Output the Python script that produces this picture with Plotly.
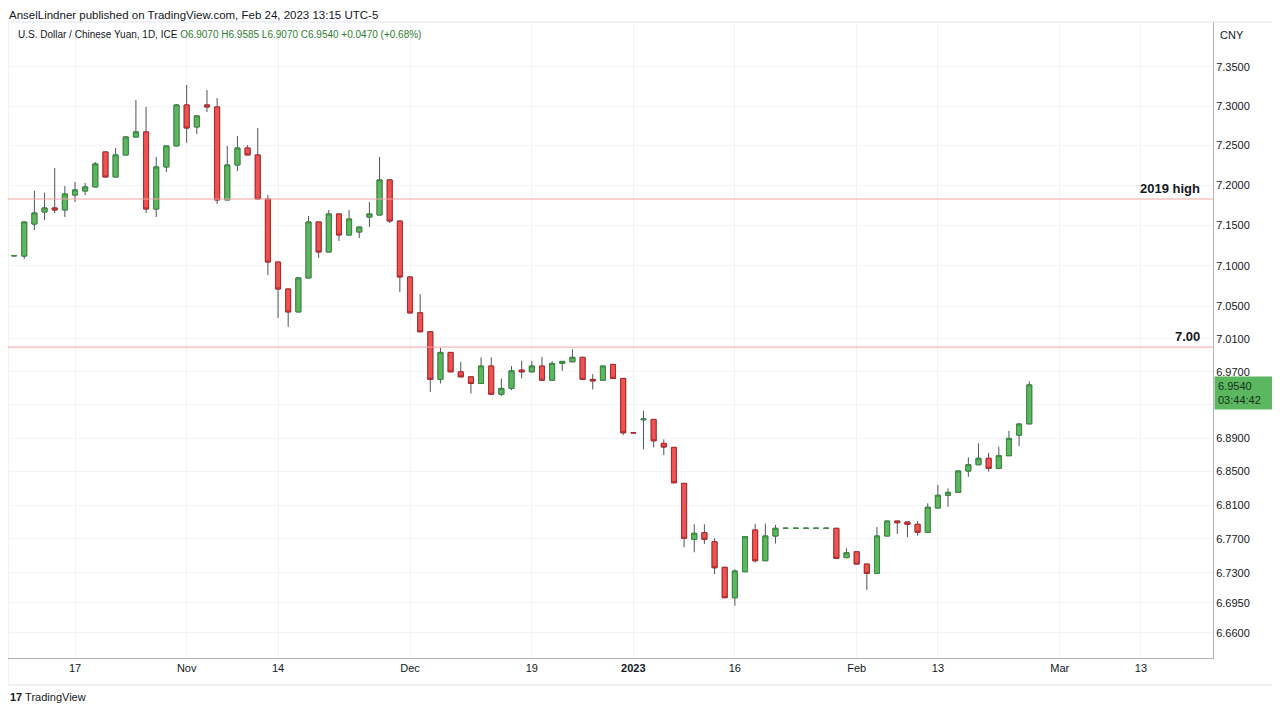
import math
import pandas as pd
import plotly.graph_objects as go

# daily USD/CNY bars, Oct 7 2022 .. Feb 24 2023 (weekdays only)
dates = pd.bdate_range("2022-10-07", "2023-02-24")

opens = [
    7.1120, 7.1119, 7.1517, 7.1667, 7.1717, 7.1692, 7.1879, 7.1930, 7.1980, 7.2420,
    7.2105, 7.2382, 7.2609, 7.2673, 7.1704, 7.2231, 7.2496, 7.3015, 7.2736, 7.3015,
    7.2990, 7.1817, 7.2256, 7.2470, 7.2382, 7.1829, 7.1045, 7.0712, 7.0430, 7.0848,
    7.1542, 7.1169, 7.1642, 7.1380, 7.1417, 7.1604, 7.1629, 7.2068, 7.1554, 7.0860,
    7.0419, 7.0187, 6.9607, 6.9935, 6.9699, 6.9638, 6.9558, 6.9769, 6.9428, 6.9498,
    6.9720, 6.9699, 6.9769, 6.9598, 6.9801, 6.9821, 6.9875, 6.9607, 6.9598, 6.9789,
    6.9619, 6.8963, 6.9120, 6.9124, 6.8836, 6.8788, 6.8358, 6.7695, 6.7773, 6.7667,
    6.7366, 6.7010, 6.7314, 6.7805, 6.7443, 6.7734, 6.7825, 6.7825, 6.7825, 6.7825,
    6.7825, 6.7825, 6.7479, 6.7549, 6.7404, 6.7295, 6.7734, 6.7911, 6.7899, 6.7872,
    6.7778, 6.8065, 6.8216, 6.8251, 6.8505, 6.8580, 6.8657, 6.8537, 6.8688, 6.8935,
    6.9070,
]
highs = [
    7.1128, 7.1545, 7.1930, 7.1905, 7.2218, 7.1992, 7.2042, 7.2030, 7.2294, 7.2420,
    7.2470, 7.2620, 7.3079, 7.2990, 7.2357, 7.2496, 7.3028, 7.3270, 7.2880, 7.3206,
    7.3104, 7.2496, 7.2622, 7.2508, 7.2723, 7.1879, 7.1045, 7.0712, 7.0860, 7.1617,
    7.1542, 7.1692, 7.1642, 7.1692, 7.1479, 7.1792, 7.2357, 7.2080, 7.1554, 7.0860,
    7.0649, 7.0187, 6.9991, 6.9935, 6.9821, 6.9638, 6.9875, 6.9875, 6.9619, 6.9769,
    6.9833, 6.9833, 6.9882, 6.9830, 6.9830, 6.9972, 6.9882, 6.9671, 6.9769, 6.9789,
    6.9619, 6.8963, 6.9228, 6.9124, 6.8884, 6.8788, 6.8358, 6.7872, 6.7872, 6.7707,
    6.7366, 6.7342, 6.7726, 6.7875, 6.7881, 6.7864, 6.7825, 6.7825, 6.7825, 6.7825,
    6.7825, 6.7825, 6.7589, 6.7549, 6.7404, 6.7840, 6.7911, 6.7911, 6.7899, 6.7911,
    6.8121, 6.8338, 6.8299, 6.8517, 6.8669, 6.8836, 6.8723, 6.8796, 6.8987, 6.9077,
    6.9585,
]
lows = [
    7.1118, 7.1082, 7.1442, 7.1567, 7.1654, 7.1604, 7.1792, 7.1879, 7.1980, 7.2105,
    7.2105, 7.2380, 7.2609, 7.1654, 7.1604, 7.2168, 7.2496, 7.2534, 7.2647, 7.2926,
    7.1767, 7.1817, 7.2181, 7.2382, 7.1829, 7.0885, 7.0357, 7.0247, 7.0430, 7.0848,
    7.1095, 7.1169, 7.1305, 7.1380, 7.1342, 7.1479, 7.1629, 7.1529, 7.0675, 7.0418,
    7.0187, 6.9456, 6.9558, 6.9699, 6.9638, 6.9437, 6.9558, 6.9428, 6.9404, 6.9477,
    6.9619, 6.9699, 6.9598, 6.9598, 6.9711, 6.9821, 6.9607, 6.9485, 6.9598, 6.9619,
    6.8935, 6.8963, 6.8764, 6.8788, 6.8696, 6.8365, 6.7601, 6.7542, 6.7640, 6.7287,
    6.7010, 6.6917, 6.7314, 6.7420, 6.7443, 6.7645, 6.7825, 6.7825, 6.7825, 6.7825,
    6.7825, 6.7471, 6.7479, 6.7404, 6.7100, 6.7295, 6.7734, 6.7758, 6.7719, 6.7738,
    6.7778, 6.8065, 6.8081, 6.8251, 6.8437, 6.8580, 6.8497, 6.8537, 6.8688, 6.8804,
    6.9070,
]
closes = [
    7.1125, 7.1542, 7.1654, 7.1717, 7.1692, 7.1892, 7.1942, 7.1980, 7.2269, 7.2105,
    7.2382, 7.2609, 7.2673, 7.1704, 7.2231, 7.2496, 7.3015, 7.2723, 7.2876, 7.2990,
    7.1817, 7.2256, 7.2470, 7.2382, 7.1829, 7.1045, 7.0712, 7.0430, 7.0848, 7.1542,
    7.1169, 7.1642, 7.1380, 7.1579, 7.1479, 7.1642, 7.2068, 7.1554, 7.0860, 7.0418,
    7.0187, 6.9607, 6.9935, 6.9699, 6.9638, 6.9558, 6.9769, 6.9428, 6.9498, 6.9711,
    6.9699, 6.9769, 6.9598, 6.9801, 6.9826, 6.9875, 6.9607, 6.9589, 6.9769, 6.9619,
    6.8963, 6.8963, 6.9128, 6.8867, 6.8792, 6.8365, 6.7707, 6.7766, 6.7695, 6.7361,
    6.7010, 6.7322, 6.7726, 6.7443, 6.7734, 6.7825, 6.7825, 6.7825, 6.7825, 6.7825,
    6.7825, 6.7471, 6.7537, 6.7404, 6.7295, 6.7734, 6.7911, 6.7891, 6.7872, 6.7778,
    6.8074, 6.8216, 6.8251, 6.8505, 6.8580, 6.8657, 6.8537, 6.8688, 6.8896, 6.9068,
    6.9540,
]

# axis ticks
x_tick_dates = ["2022-10-17", "2022-11-01", "2022-11-14", "2022-12-01", "2022-12-19",
                "2023-01-02", "2023-01-16", "2023-02-01", "2023-02-13", "2023-03-01", "2023-03-13"]
x_tick_text = ["17", "Nov", "14", "Dec", "19", "<b>2023</b>", "16", "Feb", "13", "Mar", "13"]
y_ticks = [6.6600, 6.6950, 6.7300, 6.7700, 6.8100, 6.8500, 6.8900, 6.9300, 6.9700,
           7.0100, 7.0500, 7.1000, 7.1500, 7.2000, 7.2500, 7.3000, 7.3500]

high_2019 = 7.1829
level_700 = 7.00
last_price = 6.9540

GREEN = "#5cb860"
GREEN_LINE = "#3b8a3e"
RED = "#ef5350"
RED_LINE = "#b2282c"
WICK = "#50535e"
TXT = "#131722"
FONT = "Liberation Sans"

fig = go.Figure()

# wicks (dark) underneath
fig.add_trace(go.Candlestick(
    x=dates, open=opens, high=highs, low=lows, close=closes,
    increasing=dict(fillcolor=GREEN, line=dict(color=WICK, width=1)),
    decreasing=dict(fillcolor=RED, line=dict(color=WICK, width=1)),
    whiskerwidth=0, hoverinfo="skip", showlegend=False,
))
# bodies with coloured borders on top
body_hi = [max(o, c) for o, c in zip(opens, closes)]
body_lo = [min(o, c) for o, c in zip(opens, closes)]
fig.add_trace(go.Candlestick(
    x=dates, open=opens, high=body_hi, low=body_lo, close=closes,
    increasing=dict(fillcolor=GREEN, line=dict(color=GREEN_LINE, width=1)),
    decreasing=dict(fillcolor=RED, line=dict(color=RED_LINE, width=1)),
    whiskerwidth=0, showlegend=False,
))

for lvl in (high_2019, level_700):
    fig.add_shape(type="line", xref="paper", x0=0, x1=1, yref="y", y0=lvl, y1=lvl,
                  line=dict(color="#f4a3a3", width=1))

fig.add_annotation(text="<b>2019 high</b>", xref="paper", x=0.9909, xanchor="right",
                   yref="y", y=math.log10(high_2019), yanchor="bottom", yshift=1,
                   showarrow=False, font=dict(family=FONT, size=13, color=TXT))
fig.add_annotation(text="<b>7.00</b>", xref="paper", x=0.9909, xanchor="right",
                   yref="y", y=math.log10(level_700), yanchor="bottom", yshift=1,
                   showarrow=False, font=dict(family=FONT, size=13, color=TXT))

# last price tag on the price scale
fig.add_annotation(text="%.4f<br>03:44:42" % last_price, xref="paper", x=1.0008, xanchor="left",
                   yref="y", y=math.log10(last_price), yanchor="middle", yshift=-8,
                   showarrow=False, align="left", bgcolor=GREEN, width=54, borderpad=3,
                   font=dict(family=FONT, size=11, color="#14301a"))

# header texts
fig.add_annotation(text="AnselLindner published on TradingView.com, Feb 24, 2023 13:15 UTC-5",
                   xref="paper", x=0, xanchor="left", yref="paper", y=1.022, yanchor="top",
                   borderpad=0, showarrow=False, font=dict(family=FONT, size=11.5, color=TXT))
fig.add_annotation(text="U.S. Dollar / Chinese Yuan, 1D, ICE "
                        "<span style='color:#2e7d32'>O6.9070 H6.9585 L6.9070 C6.9540 +0.0470 (+0.68%)</span>",
                   xref="paper", x=0.0066, xanchor="left", yref="paper", y=0.9796, yanchor="middle",
                   showarrow=False, font=dict(family=FONT, size=10, color=TXT))
fig.add_annotation(text="CNY", xref="paper", x=1.0041, xanchor="left", yref="paper", y=0.9796,
                   yanchor="middle", showarrow=False, font=dict(family=FONT, size=11, color=TXT))
fig.add_annotation(text="<b>17</b> TradingView", xref="paper", x=0, xanchor="left",
                   yref="paper", y=-0.0613, yanchor="middle", showarrow=False,
                   font=dict(family=FONT, size=11, color=TXT))

# widget frame
fig.add_shape(type="rect", xref="paper", yref="paper", x0=0, x1=1.0515, y0=-0.0425, y1=1,
              line=dict(color="#e0e3eb", width=1), layer="below")

# the page body adds an 8px margin, so the figure is 8px smaller and margins shifted
fig.update_layout(
    width=1272, height=705,
    margin=dict(l=0, r=67, t=14, b=55),
    paper_bgcolor="white", plot_bgcolor="white",
    font=dict(family=FONT, size=11, color=TXT),
    showlegend=False,
    hovermode=False,
)
fig.update_xaxes(
    type="date",
    rangebreaks=[dict(bounds=["sat", "mon"])],
    range=["2022-10-06 09:36", "2023-03-22 02:24"],
    rangeslider_visible=False,
    tickvals=x_tick_dates, ticktext=x_tick_text,
    showgrid=True, gridcolor="#f2f3f6", gridwidth=1,
    showline=True, linecolor="#b2b5be", linewidth=1,
    ticks="", tickfont=dict(family=FONT, size=11, color=TXT),
    zeroline=False,
)
fig.update_yaxes(
    type="log", side="right",
    range=[math.log10(6.6310), math.log10(7.4078)],
    tickvals=y_ticks, ticktext=["%.4f" % v for v in y_ticks],
    showgrid=True, gridcolor="#f2f3f6", gridwidth=1,
    showline=True, linecolor="#b2b5be", linewidth=1,
    ticks="", tickfont=dict(family=FONT, size=11, color=TXT),
    zeroline=False,
)

fig.write_html("out.html")
